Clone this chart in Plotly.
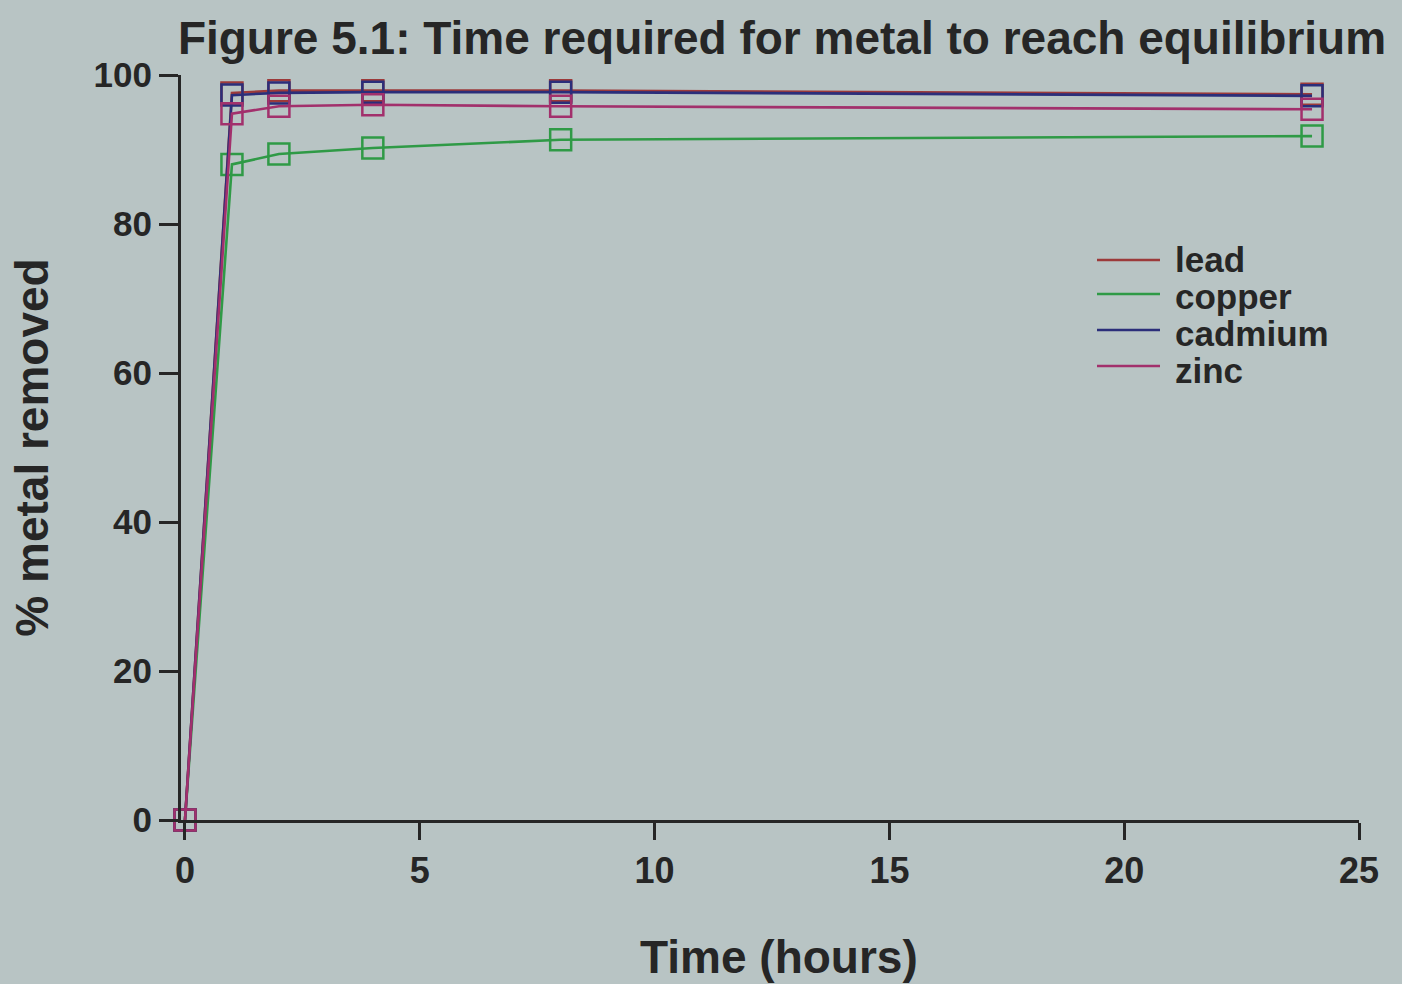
import plotly.graph_objects as go

# Sampling times (hours) and percentage of each metal removed
time_h = [0, 1, 2, 4, 8, 24]
lead = [0, 97.6, 97.9, 97.9, 97.9, 97.4]
copper = [0, 88.0, 89.4, 90.2, 91.3, 91.8]
cadmium = [0, 97.3, 97.6, 97.7, 97.7, 97.2]
zinc = [0, 94.8, 95.8, 96.0, 95.8, 95.4]

series_names = ["lead", "copper", "cadmium", "zinc"]
series_values = [lead, copper, cadmium, zinc]
series_colors = ["#9c3a3a", "#2f9a46", "#2b2e7a", "#a2306c"]

x_ticks = [0, 5, 10, 15, 20, 25]
y_ticks = [0, 20, 40, 60, 80, 100]

BG = "#b8c4c4"
INK = "#262626"
FONT = "Liberation Sans, Arial, sans-serif"

W, H = 1402, 984
ML, MR, MT, MB = 181, 43, 75, 164
PW, PH = W - ML - MR, H - MT - MB


def px_to_paper(px, py):
    return (px - ML) / PW, (H - MB - py) / PH


fig = go.Figure()

# Data lines with open square markers
for name, vals, col in zip(series_names, series_values, series_colors):
    fig.add_trace(go.Scatter(
        x=time_h, y=vals, name=name, mode="lines+markers",
        line=dict(color=col, width=2.6),
        marker=dict(symbol="square-open", size=21, color=col,
                    line=dict(width=2.5, color=col)),
        cliponaxis=False, showlegend=False,
    ))

# Line-sample legend: short coloured strokes with labels to their right
legend_rows_y = [259, 296, 333, 370]
legend_line_y = [260, 294, 330, 366]
for name, col, ty, ly in zip(series_names, series_colors, legend_rows_y, legend_line_y):
    x0, y0 = px_to_paper(1097, ly)
    x1, _ = px_to_paper(1160, ly)
    fig.add_shape(type="line", xref="paper", yref="paper",
                  x0=x0, x1=x1, y0=y0, y1=y0,
                  line=dict(color=col, width=2.6))
    tx, tyy = px_to_paper(1173, ty)
    fig.add_annotation(xref="paper", yref="paper", x=tx, y=tyy,
                       xanchor="left", yanchor="middle", showarrow=False,
                       text=f"<b>{name}</b>",
                       font=dict(size=35, family=FONT, color=INK))

# X-axis title
xt, yt = px_to_paper(779, 957)
fig.add_annotation(xref="paper", yref="paper", x=xt, y=yt,
                   xanchor="center", yanchor="middle", showarrow=False,
                   text="<b>Time (hours)</b>",
                   font=dict(size=46, family=FONT, color=INK))

fig.update_layout(
    width=W, height=H,
    paper_bgcolor=BG, plot_bgcolor=BG,
    margin=dict(l=ML, r=MR, t=MT, b=MB),
    font=dict(family=FONT, color=INK),
    title=dict(
        text="<b>Figure 5.1: Time required for metal to reach equilibrium</b>",
        x=782 / W, xanchor="center", y=1 - 38 / H, yanchor="middle",
        font=dict(size=46, family=FONT, color=INK),
    ),
    showlegend=False,
)

fig.update_xaxes(
    range=[-0.085, 25], tickvals=x_ticks,
    ticktext=[f"<b>{v}</b>" for v in x_ticks],
    showgrid=False, zeroline=False,
    showline=True, linecolor=INK, linewidth=3,
    ticks="outside", ticklen=17, tickwidth=3, tickcolor=INK,
    tickfont=dict(size=36, family=FONT, color=INK),
)
fig.update_yaxes(
    range=[0, 100], tickvals=y_ticks,
    ticktext=[f"<b>{v}</b>" for v in y_ticks],
    showgrid=False, zeroline=False,
    showline=True, linecolor=INK, linewidth=3,
    ticks="outside", ticklen=19, tickwidth=3, tickcolor=INK,
    tickfont=dict(size=35, family=FONT, color=INK),
    title=dict(text="<b>% metal removed</b>", font=dict(size=46, family=FONT, color=INK),
               standoff=31),
)

fig.write_html("out.html")
